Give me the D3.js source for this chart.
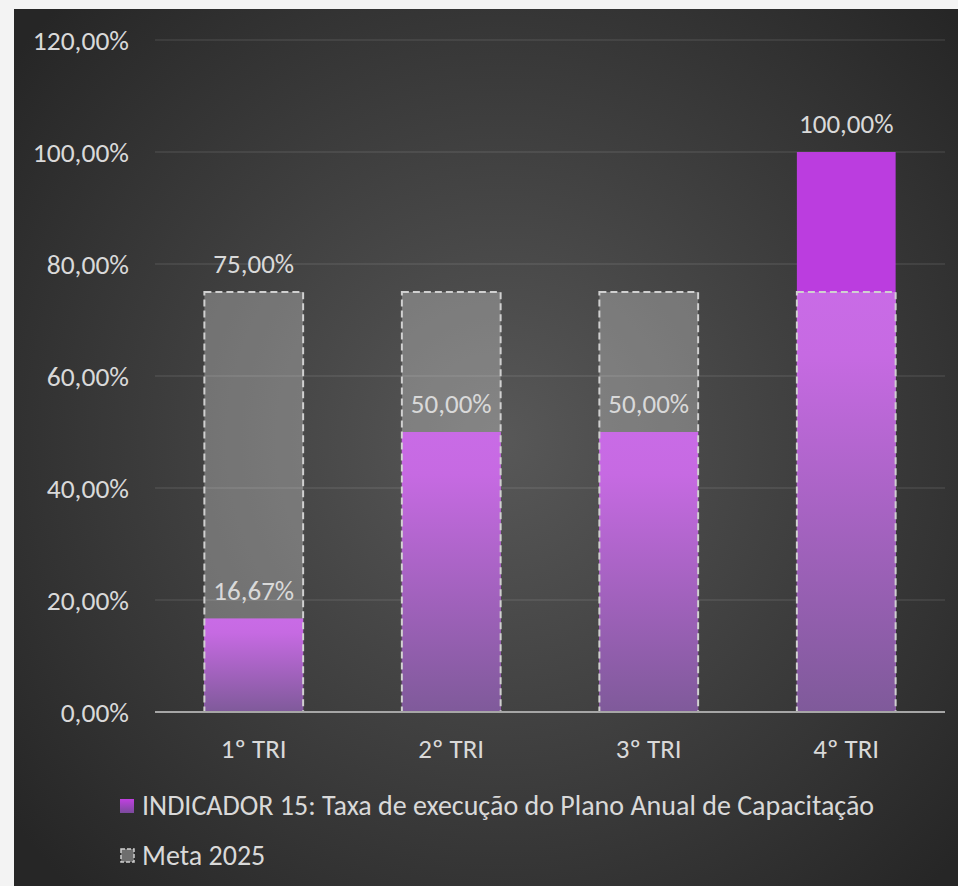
<!DOCTYPE html>
<html><head><meta charset="utf-8">
<script src="https://cdn.jsdelivr.net/npm/d3@7"></script>
<style>html,body{margin:0;padding:0;background:#f3f3f3;overflow:hidden}</style>
</head><body>
<script>
const categories = ["1º TRI", "2º TRI", "3º TRI", "4º TRI"];
const indicador = [0.1667, 0.50, 0.50, 1.00];
const meta = [0.75, 0.75, 0.75, 0.75];
const yTicks = [0, 0.2, 0.4, 0.6, 0.8, 1.0, 1.2];
const seriesNames = ["INDICADOR 15: Taxa de execução do Plano Anual de Capacitação", "Meta 2025"];
const metaLabelShown = [true, false, false, false];

const W = 958, H = 886;
const FONT = "Calibri, Carlito, Lato, sans-serif";
const fmt = v => d3.format(".2f")(v * 100).replace(".", ",") + "%";

const svg = d3.select("body").append("svg").attr("width", W).attr("height", H);
const defs = svg.append("defs");

const bg = defs.append("radialGradient").attr("id", "bg")
  .attr("gradientUnits", "userSpaceOnUse").attr("cx", 500).attr("cy", 440).attr("r", 620);
bg.append("stop").attr("offset", 0).attr("stop-color", "#585858");
bg.append("stop").attr("offset", 1).attr("stop-color", "#262626");

const pg = defs.append("linearGradient").attr("id", "pg").attr("x1", 0).attr("y1", 0).attr("x2", 0).attr("y2", 1);
pg.append("stop").attr("offset", 0).attr("stop-color", "#c96be6");
pg.append("stop").attr("offset", 0.15).attr("stop-color", "#c66ae2");
pg.append("stop").attr("offset", 1).attr("stop-color", "#7f5a9a");

const lg = defs.append("linearGradient").attr("id", "lg").attr("x1", 0).attr("y1", 0).attr("x2", 0).attr("y2", 1);
lg.append("stop").attr("offset", 0).attr("stop-color", "#c040e0");
lg.append("stop").attr("offset", 1).attr("stop-color", "#7a4a9c");

svg.append("rect").attr("x", 14).attr("y", 9).attr("width", W - 14).attr("height", H - 9).attr("fill", "url(#bg)");

const x = d3.scaleBand().domain(categories).range([155, 945]).paddingInner(0.5).paddingOuter(0.25);
const y = d3.scaleLinear().domain([0, 1.2]).range([712, 40]);

// gridlines
svg.append("g").selectAll("line").data(yTicks.filter(t => t > 0)).join("line")
  .attr("x1", 155).attr("x2", 945).attr("y1", d => y(d)).attr("y2", d => y(d))
  .attr("stroke", "#ffffff").attr("stroke-opacity", 0.1).attr("stroke-width", 1.5);

// y tick labels
svg.append("g").selectAll("text").data(yTicks).join("text")
  .attr("x", 129).attr("y", d => y(d)).attr("dy", "0.35em").attr("text-anchor", "end")
  .attr("font-family", FONT).attr("font-size", 27.5).attr("fill", "#d9d9d9").text(fmt);

const data = categories.map((c, i) => ({c, v: indicador[i], m: meta[i], ml: metaLabelShown[i]}));
const bw = x.bandwidth();

// indicator bars (solid)
svg.append("g").selectAll("rect").data(data).join("rect")
  .attr("x", d => x(d.c)).attr("width", bw)
  .attr("y", d => y(d.v)).attr("height", d => y(0) - y(d.v)).attr("fill", "#bb3ddf");

// meta fill (translucent)
svg.append("g").selectAll("rect").data(data).join("rect")
  .attr("x", d => x(d.c)).attr("width", bw)
  .attr("y", d => y(d.m)).attr("height", d => y(0) - y(d.m))
  .attr("fill", "#ffffff").attr("fill-opacity", 0.27);

// overlap region gradient
svg.append("g").selectAll("rect").data(data).join("rect")
  .attr("x", d => x(d.c)).attr("width", bw)
  .attr("y", d => y(Math.min(d.v, d.m))).attr("height", d => y(0) - y(Math.min(d.v, d.m)))
  .attr("fill", "url(#pg)");

// meta dashed outline
svg.append("g").selectAll("rect").data(data).join("rect")
  .attr("x", d => x(d.c)).attr("width", bw)
  .attr("y", d => y(d.m)).attr("height", d => y(0) - y(d.m))
  .attr("fill", "none").attr("stroke", "#d0d0d0").attr("stroke-width", 2).attr("stroke-dasharray", "7,4");

// axis line
svg.append("line").attr("x1", 155).attr("x2", 945).attr("y1", y(0)).attr("y2", y(0))
  .attr("stroke", "#a6a6a6").attr("stroke-width", 2);

// category labels
svg.append("g").selectAll("text").data(categories).join("text")
  .attr("x", d => x(d) + bw / 2).attr("y", 758).attr("text-anchor", "middle")
  .attr("font-family", FONT).attr("font-size", 27).attr("fill", "#d9d9d9").text(d => d);

// indicator labels
svg.append("g").selectAll("text").data(data).join("text")
  .attr("x", d => x(d.c) + bw / 2).attr("y", d => y(d.v) - 19).attr("text-anchor", "middle")
  .attr("font-family", FONT).attr("font-size", 27).attr("fill", "#d9d9d9").text(d => fmt(d.v));

// meta labels
svg.append("g").selectAll("text").data(data.filter(d => d.ml)).join("text")
  .attr("x", d => x(d.c) + bw / 2).attr("y", d => y(d.m) - 19).attr("text-anchor", "middle")
  .attr("font-family", FONT).attr("font-size", 27).attr("fill", "#d9d9d9").text(d => fmt(d.m));

// legend
const leg = svg.append("g");
leg.append("rect").attr("x", 120).attr("y", 799).attr("width", 14).attr("height", 14).attr("fill", "url(#lg)");
leg.append("rect").attr("x", 121).attr("y", 849).attr("width", 13).attr("height", 13)
  .attr("fill", "#6e6e6e").attr("stroke", "#d0d0d0").attr("stroke-width", 1.5).attr("stroke-dasharray", "4,2");
leg.selectAll("text").data(seriesNames).join("text")
  .attr("x", 142).attr("y", (d, i) => 815 + i * 50)
  .attr("font-family", FONT).attr("font-size", 28).attr("fill", "#d9d9d9").text(d => d);
</script>
</body></html>
